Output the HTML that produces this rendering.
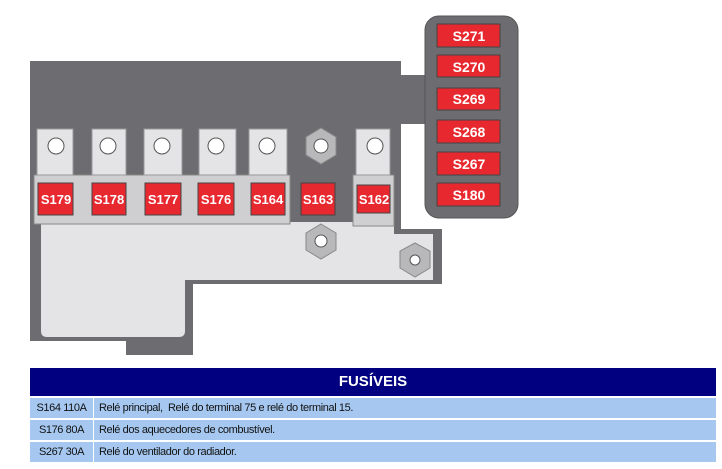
<!DOCTYPE html>
<html><head><meta charset="utf-8"><style>
body{margin:0;width:722px;height:469px;background:#fff;overflow:hidden;position:relative;font-family:"Liberation Sans",sans-serif}
svg{position:absolute;left:0;top:0}
.t{position:absolute;left:30px;width:686px}
.h{top:368px;height:28px;background:#000080;color:#fff;font-weight:bold;font-size:15px;text-align:center;line-height:28px}
.r{height:20px;background:#a6c8f0;font-size:11px;letter-spacing:-0.4px;line-height:20px;color:#111;display:flex}
.r .a{width:63px;text-align:center;border-right:1px solid #fff}
.r .b{padding-left:5px}
</style></head><body>
<svg width="722" height="469" font-family="Liberation Sans, sans-serif" font-weight="bold" font-size="14">
<polygon points="30,61 401,61 401,229 442,229 442,284 193,284 193,355 126,355 126,341 30,341" fill="#6d6d71"/>
<rect x="401" y="75" width="26" height="49" fill="#6d6d71"/>
<rect x="425" y="16" width="93" height="202" rx="14" fill="#6d6d71" stroke="#555" stroke-width="1"/>
<path d="M41,222 L394,222 L394,234 L433,234 L433,280 L185,280 L185,331 Q185,337 179,337 L47,337 Q41,337 41,331 Z" fill="#e4e4e6"/>
<rect x="34" y="175" width="256" height="49" fill="#cfcfd1" stroke="#888" stroke-width="1"/>
<rect x="353" y="175" width="41" height="51" fill="#cfcfd1" stroke="#888" stroke-width="1"/>
<g fill="#e4e4e6" stroke="#999" stroke-width="1">
<rect x="37" y="129" width="36" height="46"/><rect x="92" y="129" width="34" height="46"/><rect x="144" y="129" width="38" height="46"/><rect x="199" y="129" width="37" height="46"/><rect x="249" y="129" width="38" height="46"/><rect x="356" y="129" width="34" height="46"/>
</g>
<g fill="#fff" stroke="#555" stroke-width="1">
<circle cx="56" cy="146" r="8"/><circle cx="108" cy="146" r="8"/><circle cx="162" cy="146" r="8"/><circle cx="216" cy="146" r="8"/><circle cx="267" cy="146" r="8"/><circle cx="375" cy="146" r="8"/>
</g>
<g fill="#b8b8ba" stroke="#888">
<polygon points="321,128 336,137 336,155 321,164 306,155 306,137"/>
<polygon points="321,224 336,233 336,250 321,259 306,250 306,233"/>
<polygon points="415,243 430,251 430,268 415,277 400,268 400,251"/>
</g>
<g fill="#fff" stroke="#555"><circle cx="321" cy="146" r="7"/><circle cx="321" cy="241" r="6"/><circle cx="415" cy="260" r="5"/></g>
<g fill="#e8282f" stroke="#444" stroke-width="1">
<rect x="38" y="183" width="35" height="32"/><rect x="92" y="183" width="34" height="32"/><rect x="145" y="183" width="36" height="32"/><rect x="198" y="183" width="36" height="32"/><rect x="251" y="183" width="34" height="32"/><rect x="301" y="183" width="34" height="32"/><rect x="357" y="185" width="33" height="28"/>
<rect x="437" y="24" width="63" height="23"/><rect x="437" y="55" width="63" height="22"/><rect x="437" y="88" width="63" height="22"/><rect x="437" y="120" width="63" height="23"/><rect x="437" y="152" width="63" height="23"/><rect x="437" y="183" width="63" height="23"/>
</g>
<g fill="#fff" text-anchor="middle" font-size="13">
<text x="56" y="204">S179</text><text x="109" y="204">S178</text><text x="163" y="204">S177</text><text x="216" y="204">S176</text><text x="268" y="204">S164</text><text x="318" y="204">S163</text><text x="374" y="204">S162</text>
</g>
<g fill="#fff" text-anchor="middle" font-size="14">
<text x="469" y="41">S271</text><text x="469" y="72">S270</text><text x="469" y="104">S269</text><text x="469" y="137">S268</text><text x="469" y="169">S267</text><text x="469" y="200">S180</text>
</g>
</svg>
<div class="t h">FUSÍVEIS</div>
<div class="t r" style="top:398px"><div class="a">S164 110A</div><div class="b">Relé principal,&nbsp; Relé do terminal 75 e relé do terminal 15.</div></div>
<div class="t r" style="top:420px"><div class="a">S176 80A</div><div class="b">Relé dos aquecedores de combustível.</div></div>
<div class="t r" style="top:442px"><div class="a">S267 30A</div><div class="b">Relé do ventilador do radiador.</div></div>
</body></html>
